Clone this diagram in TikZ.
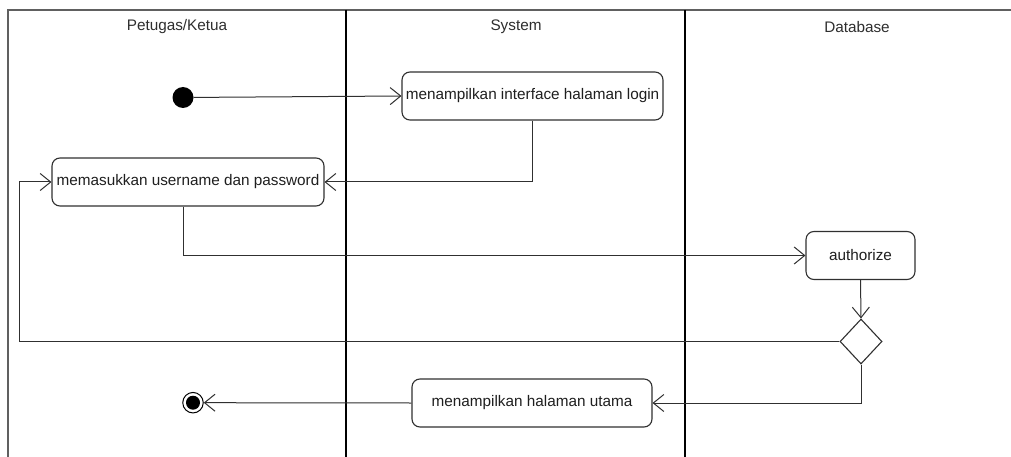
\documentclass[tikz,border=0pt]{standalone}
\usepackage{fontspec}
\setmainfont{Liberation Sans}
\usetikzlibrary{arrows.meta,shapes.geometric}
\definecolor{edge}{HTML}{303030}
\definecolor{frame}{HTML}{606060}
\tikzset{
  act/.style={draw=edge, line width=1.1pt, rounded corners=8pt, fill=white, inner sep=0pt, text=black!88},
  flow/.style={draw=edge, line width=1pt, -{Straight Barb[length=10.5pt,width=17pt,line width=1pt]}},
  lane/.style={draw=black, line width=2pt},
  hdr/.style={text=black!82, inner sep=0pt},
  txt/.style={font=\fontsize{15.3}{17}\selectfont}
}
\begin{document}
\begin{tikzpicture}[x=1pt,y=-1pt,txt]
\useasboundingbox (0,0) rectangle (1011,457);
\fill[white] (0,0) rectangle (1011,457);
% frame and lanes
\draw[frame, line width=2pt] (8,457) -- (8,10.5) -- (1011,10.5);
\draw[lane] (346,10) -- (346,457);
\draw[lane] (685,10) -- (685,457);
\node[hdr] (h1) at (177,27) {Petugas/Ketua};
\node[hdr] (h2) at (516,27) {System};
\node[hdr] (h3) at (857,27) {Database};
% nodes
\node[circle, fill=black, minimum size=21pt, inner sep=0pt] (start) at (183,97.5) {};
\node[act, minimum width=261pt, minimum height=48pt] (login) at (532.5,96) {menampilkan interface halaman login};
\node[act, minimum width=272pt, minimum height=48pt] (input) at (188,182) {memasukkan username dan password};
\node[act, minimum width=109pt, minimum height=48pt] (auth) at (860.5,255.5) {authorize};
\node[diamond, draw=edge, line width=1.1pt, fill=white, minimum width=42pt, minimum height=45pt, inner sep=0pt] (dec) at (861,341.5) {};
\node[act, minimum width=240pt, minimum height=48pt] (home) at (532,403) {menampilkan halaman utama};
\node[circle, draw=black, line width=1pt, fill=white, minimum size=20.5pt, inner sep=0pt] (end) at (193,402.7) {};
\node[circle, fill=black, minimum size=14pt, inner sep=0pt] (endin) at (end.center) {};
\coordinate (loopx) at (19,0);
% connectors
\draw[flow] (start) -- (login.west);
\draw[flow] (login.south) |- (input.east);
\draw[flow] (input.south -| start) |- (auth.west);
\draw[flow] (auth.south) -- (dec.north);
\draw[flow] (dec.west) -| (loopx |- input) -- (input.west);
\draw[flow] (dec.south) |- (home.east);
\draw[flow] (home.west) -- (end.east);
\end{tikzpicture}
\end{document}
